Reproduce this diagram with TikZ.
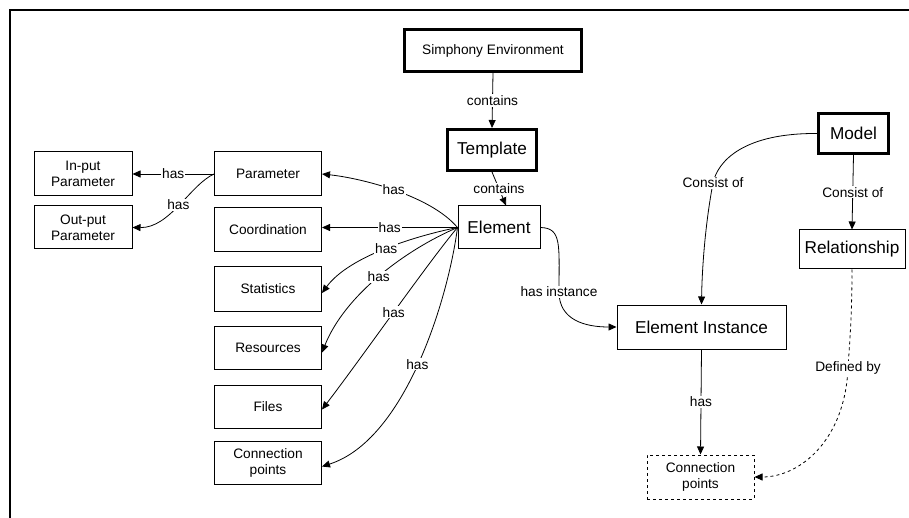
\documentclass[tikz,border=0pt]{standalone}
\usepackage{fontspec}
\setmainfont{Liberation Sans}
\usetikzlibrary{arrows.meta}
\begin{document}
\begin{tikzpicture}[x=1pt,y=-1pt,
  box/.style={draw=black,line width=1pt,inner sep=0pt,align=center,font=\fontsize{13.7}{16}\selectfont},
  bigbox/.style={box,font=\fontsize{17.2}{20}\selectfont},
  thickbox/.style={line width=3pt},
  edge/.style={draw=black,line width=0.8pt,-{Triangle[length=8pt,width=7pt]}},
  lbl/.style={fill=white,inner sep=1pt,font=\fontsize{13.7}{16}\selectfont}]
\useasboundingbox (0,0) rectangle (909,518);
\draw[line width=2pt] (10,518) -- (10,10) -- (909,10);
% nodes
\node[box,thickbox,minimum width=177pt,minimum height=42pt] (env) at (493,50.5) {Simphony Environment};
\node[bigbox,thickbox,minimum width=89pt,minimum height=41pt] (tmpl) at (492,150) {Template};
\node[bigbox,minimum width=82pt,minimum height=43pt] (elem) at (499,227.5) {Element};
\node[box,minimum width=107pt,minimum height=44pt] (param) at (268,174) {Parameter};
\node[box,minimum width=98pt,minimum height=44pt] (inp) at (83,174) {In-put\\Parameter};
\node[box,minimum width=98pt,minimum height=43pt] (outp) at (83,227.5) {Out-put\\Parameter};
\node[box,minimum width=107pt,minimum height=44pt] (coord) at (268,230) {Coordination};
\node[box,minimum width=107pt,minimum height=44pt] (stats) at (268,289) {Statistics};
\node[box,minimum width=107pt,minimum height=43pt] (res) at (268,347.5) {Resources};
\node[box,minimum width=107pt,minimum height=43pt] (files) at (268,406.5) {Files};
\node[box,minimum width=107pt,minimum height=43pt] (cpl) at (268,462.5) {Connection\\points};
\node[bigbox,thickbox,minimum width=70pt,minimum height=40pt] (model) at (853.5,133.5) {Model};
\node[bigbox,minimum width=106pt,minimum height=39pt] (rel) at (852,249.5) {Relationship};
\node[bigbox,minimum width=169pt,minimum height=44pt] (einst) at (701.5,327) {Element Instance};
\node[box,dashed,minimum width=107pt,minimum height=44pt] (cpr) at (700.5,477) {Connection\\points};
% edges
\draw[edge] (env.south) -- node[lbl] {contains} (tmpl.north);
\draw[edge] (tmpl.south) -- node[lbl] {contains} ([xshift=7pt]elem.north);
\draw[edge] (elem.west) .. controls (430,195) and (360,178) .. node[lbl] {has} (param.east);
\draw[edge] (elem.west) -- node[lbl] {has} ([yshift=2.5pt]coord.east);
\draw[edge] (elem.west) .. controls (420,235) and (350,255) .. node[lbl] {has} ([yshift=-4pt]stats.east);
\draw[edge] (elem.west) .. controls (405,250) and (345,295) .. node[lbl] {has} ([yshift=-5pt]res.east);
\draw[edge] (elem.west) .. controls (430,260) and (360,360) .. node[lbl] {has} ([yshift=-3pt]files.east);
\draw[edge] (elem.west) .. controls (448,300) and (405,440) .. node[lbl] {has} ([yshift=-4pt]cpl.east);
\draw[edge] (param.west) -- node[lbl] {has} (inp.east);
\draw[edge] (param.west) .. controls (190,185) and (170,228) .. node[lbl] {has} (outp.east);
\draw[edge] (elem.east) .. controls (562,228) and (559,245) .. (559,292) node[lbl] {has instance}
   .. controls (559,320) and (585,327) .. (einst.west);
\draw[edge] (model.west) .. controls (745,133) and (718,160) .. (713,183) node[lbl] {Consist of}
   .. controls (705,225) and (702,270) .. (einst.north);
\draw[edge] (model.south) -- node[lbl] {Consist of} (rel.north);
\draw[edge] (einst.south) -- node[lbl] {has} (cpr.north);
\draw[edge,dashed] (rel.south) .. controls (852,320) and (849,350) .. (848,368) node[lbl] {Defined by}
   .. controls (845,440) and (800,477) .. (cpr.east);
\end{tikzpicture}
\end{document}
